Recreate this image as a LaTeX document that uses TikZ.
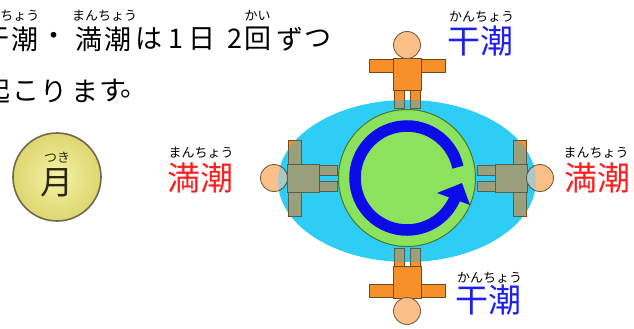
\documentclass[tikz,border=0pt]{standalone}
\usepackage{fontspec}
\newfontfamily\jpfont{Noto Sans CJK JP}

\definecolor{seacyan}{RGB}{45,205,245}
\definecolor{earthgreen}{RGB}{140,226,92}
\definecolor{earthrim}{RGB}{70,120,45}
\definecolor{spinblue}{RGB}{12,12,235}
\definecolor{shirt}{RGB}{245,145,40}
\definecolor{shirtrim}{RGB}{110,72,30}
\definecolor{skin}{RGB}{250,192,135}
\definecolor{skinrim}{RGB}{120,95,70}
\definecolor{wetshirt}{RGB}{155,160,124}
\definecolor{wetskin}{RGB}{172,200,198}
\definecolor{wetrim}{RGB}{85,95,80}
\definecolor{moonlight}{RGB}{245,242,165}
\definecolor{moonbody}{RGB}{222,214,112}
\definecolor{moonrim}{RGB}{110,105,75}
\definecolor{hightide}{RGB}{255,30,30}
\definecolor{lowtide}{RGB}{30,30,240}
\definecolor{moonink}{RGB}{45,40,20}

\tikzset{
  limb/.style={fill=shirt, draw=shirtrim, line width=0.9pt},
  headball/.style={fill=skin, draw=skinrim, line width=0.9pt},
  wet/.style={
    limb/.style={fill=wetshirt, draw=wetrim, line width=0.9pt},
    headball/.style={fill=wetskin, draw=wetrim, line width=0.9pt}},
  % a standing figure, feet towards the origin, head towards -y
  person/.pic={
    \path[limb] (-13,-88) rectangle (-3,-70);
    \path[limb] (3,-88) rectangle (13,-70);
    \path[limb] (-38,-119) rectangle (38,-106);
    \path[limb] (-14,-120) rectangle (14,-88);
    \path[headball] (0,-133) circle[radius=13.5];
  },
  % all four figures around the earth centre
  people/.pic={
    \pic (up) {person};
    \pic[rotate=90] (lf) {person};
    \pic[rotate=-90] (rt) {person};
    \pic[rotate=180] (dn) {person};
  },
  txt/.style={inner sep=0pt, font=\jpfont\fontsize{27}{27}\selectfont},
  ruby/.style={inner sep=0pt, font=\jpfont\fontsize{13}{13}\selectfont},
  tide/.style={inner sep=0pt, font=\jpfont\fontsize{33}{33}\selectfont},
}

\begin{document}
\begin{tikzpicture}[x=1pt,y=-1pt]
\useasboundingbox (0,0) rectangle (634,329);

% sea around the earth
\fill[seacyan] (407,181) ellipse[x radius=129, y radius=81];

% four people standing on the earth
\pic (crowd) at (407,178) {people};
% the parts under water look tinted
\begin{scope}
  \clip (407,181) ellipse[x radius=129, y radius=81];
  \pic[wet] (wetcrowd) at (407,178) {people};
\end{scope}

% the earth and its rotation
\draw[fill=earthgreen, draw=earthrim, line width=1pt] (407,178) circle[radius=68.5];
\draw[spinblue, line width=11.5pt] (407,178) ++(-12:52)
  arc[start angle=-12, end angle=-338, radius=52];
\fill[spinblue] (462,183) -- (437,193) -- (470,205) -- cycle;

% the moon
\node (moon) [circle, minimum size=88pt, inner sep=0pt, draw=moonrim,
  line width=1.6pt, inner color=moonlight, outer color=moonbody] at (57,177) {};
\node[tide, text=moonink] (tsuki) at (57,183) {月};
\node[ruby, text=moonink] (tsukiruby) at (57,158) {つき};

% tide labels
\node[tide, text=hightide] (hleft) at (200.5,178) {満潮};
\node[ruby] (hleftruby) at (201,153) {まんちょう};
\node[tide, text=hightide] (hright) at (597.5,178) {満潮};
\node[ruby] (hrightruby) at (596,153) {まんちょう};
\node[tide, text=lowtide] (ltop) at (480.5,41.5) {干潮};
\node[ruby] (ltopruby) at (481.5,17) {かんちょう};
\node[tide, text=lowtide] (lbottom) at (488.5,300) {干潮};
\node[ruby] (lbottomruby) at (489.5,278) {かんちょう};

% caption text
\foreach \ch/\x [count=\i] in {干/-3.5, 潮/24.5, ・/53.5, 満/88.5, 潮/117.5,
    は/148.5, 1/176, 日/201.5, 2/235, 回/257.5, ず/289.5, つ/317.5}
  \node[txt] (cap\i) at (\x,39) {\ch};
\node[ruby] (capruby1) at (7,16) {かんちょう};
\node[ruby] (capruby2) at (104.5,16) {まんちょう};
\node[ruby] (capruby3) at (257.5,15.5) {かい};
\foreach \ch/\x [count=\i] in {起/-3, こ/26, り/53.5, ま/84.5, す/112.5}
  \node[txt] (capb\i) at (\x,91) {\ch};
\node[txt] (capbend) at (134,94) {。};
\end{tikzpicture}
\end{document}
